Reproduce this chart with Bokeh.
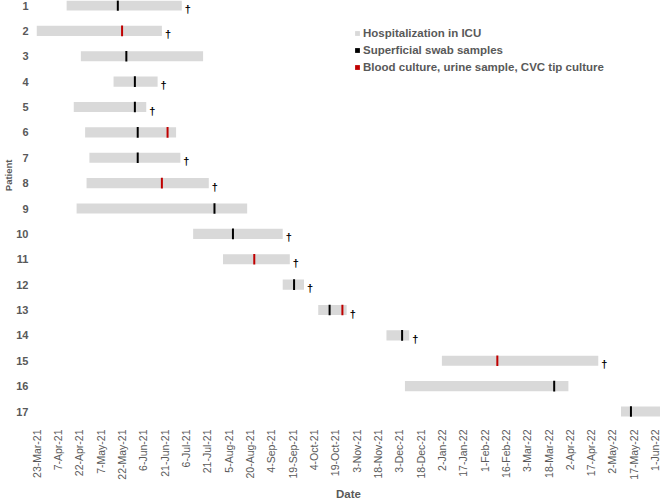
import pandas as pd
from math import pi
from bokeh.plotting import figure
from bokeh.models import (ColumnDataSource, Range1d, FixedTicker, CustomJSTickFormatter,
                          Legend, LegendItem, Title)
from bokeh.core.properties import value
from bokeh.embed import file_html
from bokeh.resources import INLINE

# ---------------- data ----------------
patients = list(range(1, 18))
admission = ["2021-04-13", "2021-03-22", "2021-04-23", "2021-05-16", "2021-04-18",
             "2021-04-26", "2021-04-29", "2021-04-27", "2021-04-20", "2021-07-11",
             "2021-08-01", "2021-09-12", "2021-10-07", "2021-11-24", "2022-01-02",
             "2021-12-07", "2022-05-08"]
discharge = ["2021-07-03", "2021-06-19", "2021-07-18", "2021-06-16", "2021-06-08",
             "2021-06-29", "2021-07-02", "2021-07-22", "2021-08-18", "2021-09-12",
             "2021-09-17", "2021-09-27", "2021-10-27", "2021-12-10", "2022-04-22",
             "2022-04-01", "2022-06-10"]
died = [1, 1, 0, 1, 1, 0, 1, 1, 0, 1, 1, 1, 1, 1, 1, 0, 0]

swab_patient = [1, 3, 4, 5, 6, 7, 9, 10, 12, 13, 14, 16, 17]
swab_date = ["2021-05-19", "2021-05-25", "2021-05-31", "2021-05-31", "2021-06-02",
             "2021-06-02", "2021-07-26", "2021-08-08", "2021-09-20", "2021-10-15",
             "2021-12-05", "2022-03-22", "2022-05-15"]

culture_patient = [2, 6, 8, 11, 13, 15]
culture_date = ["2021-05-22", "2021-06-23", "2021-06-19", "2021-08-23", "2021-10-24",
                "2022-02-10"]

tick_labels = ["23-Mar-21", "7-Apr-21", "22-Apr-21", "7-May-21", "22-May-21", "6-Jun-21",
               "21-Jun-21", "6-Jul-21", "21-Jul-21", "5-Aug-21", "20-Aug-21", "4-Sep-21",
               "19-Sep-21", "4-Oct-21", "19-Oct-21", "3-Nov-21", "18-Nov-21", "3-Dec-21",
               "18-Dec-21", "2-Jan-22", "17-Jan-22", "1-Feb-22", "16-Feb-22", "3-Mar-22",
               "18-Mar-22", "2-Apr-22", "17-Apr-22", "2-May-22", "17-May-22", "1-Jun-22"]

legend_labels = ["Hospitalization in ICU", "Superficial swab samples",
                 "Blood culture, urine sample, CVC tip culture"]

# ---------------- styling ----------------
FONT = "Liberation Sans"
TXT = "#595959"
BAR = "#d9d9d9"
BLACK = "#000000"
RED = "#c00000"

tick_dates = pd.to_datetime(tick_labels, format="%d-%b-%y")
tick_ms = [float(t.timestamp() * 1000) for t in tick_dates]

bars = ColumnDataSource(dict(patient=patients,
                             admit=pd.to_datetime(admission),
                             out=pd.to_datetime(discharge)))
swabs = ColumnDataSource(dict(patient=swab_patient, date=pd.to_datetime(swab_date)))
cultures = ColumnDataSource(dict(patient=culture_patient, date=pd.to_datetime(culture_date)))
dead_p = [p_ for p_, d in zip(patients, died) if d]
dead_x = [pd.Timestamp(x) for x, d in zip(discharge, died) if d]
deaths = ColumnDataSource(dict(patient=dead_p, date=dead_x, mark=["\u2020"] * len(dead_p)))

p = figure(width=660, height=502, x_axis_type="datetime",
           x_range=Range1d(pd.Timestamp("2021-03-22 19:00"), pd.Timestamp("2022-06-04 19:00")),
           y_range=Range1d(17.433, 0.803),
           output_backend="svg", toolbar_location=None, tools="",
           min_border_left=0, min_border_right=0, min_border_top=0, min_border_bottom=0)
p.outline_line_color = None
p.xgrid.visible = False
p.ygrid.visible = False
p.background_fill_color = "white"
p.border_fill_color = "white"

r_bar = p.hbar(y="patient", left="admit", right="out", height=0.4, source=bars,
               fill_color=BAR, line_color=None)
r_swab = p.rect(x="date", y="patient", width=2, width_units="screen", height=0.42,
                source=swabs, fill_color=BLACK, line_color=None)
r_cult = p.rect(x="date", y="patient", width=2, width_units="screen", height=0.42,
                source=cultures, fill_color=RED, line_color=None)
p.text(x="date", y="patient", text="mark", source=deaths, x_offset=3, y_offset=3.5,
       text_align="left", text_baseline="alphabetic", text_font=value(FONT),
       text_font_size="11px", text_font_style="bold", text_color=BLACK)

# x axis
xa = p.xaxis[0]
xa.ticker = FixedTicker(ticks=tick_ms)
xa.formatter = CustomJSTickFormatter(args=dict(tms=tick_ms, labels=tick_labels), code="""
let best = 0, bd = Infinity;
for (let i = 0; i < tms.length; i++) { const d = Math.abs(tms[i] - tick); if (d < bd) { bd = d; best = i; } }
return labels[best];
""")
xa.major_label_orientation = pi / 2
xa.axis_line_color = None
xa.major_tick_line_color = None
xa.minor_tick_line_color = None
xa.major_tick_out = 0
xa.major_tick_in = 0
xa.minor_tick_out = 0
xa.major_label_standoff = 7
xa.major_label_text_font = FONT
xa.major_label_text_font_size = "10.5px"
xa.major_label_text_color = TXT

# y axis
ya = p.yaxis[0]
ya.ticker = FixedTicker(ticks=patients)
ya.axis_line_color = None
ya.major_tick_line_color = None
ya.minor_tick_line_color = None
ya.major_tick_out = 0
ya.major_tick_in = 0
ya.minor_tick_out = 0
ya.major_label_standoff = 8
ya.major_label_text_font = FONT
ya.major_label_text_font_size = "11px"
ya.major_label_text_font_style = "bold"
ya.major_label_text_color = TXT

# axis titles
p.add_layout(Title(text="Patient", align="right", offset=159, standoff=0,
                   text_font=FONT, text_font_size="9.5px", text_font_style="bold",
                   text_color=TXT), "left")
p.add_layout(Title(text="Date", align="center", standoff=6,
                   text_font=FONT, text_font_size="11.5px", text_font_style="bold",
                   text_color=TXT), "below")

legend = Legend(items=[LegendItem(label=legend_labels[0], renderers=[r_bar]),
                       LegendItem(label=legend_labels[1], renderers=[r_swab]),
                       LegendItem(label=legend_labels[2], renderers=[r_cult])],
                location=(318, 347))
legend.border_line_color = None
legend.background_fill_alpha = 0
legend.padding = 0
legend.spacing = 0
legend.margin = 0
legend.label_height = 17
legend.glyph_height = 6
legend.glyph_width = 6
legend.label_standoff = 3
legend.label_text_font = FONT
legend.label_text_font_size = "11.5px"
legend.label_text_font_style = "bold"
legend.label_text_color = TXT
p.add_layout(legend)

open("out.html", "w").write(file_html(p, INLINE))
